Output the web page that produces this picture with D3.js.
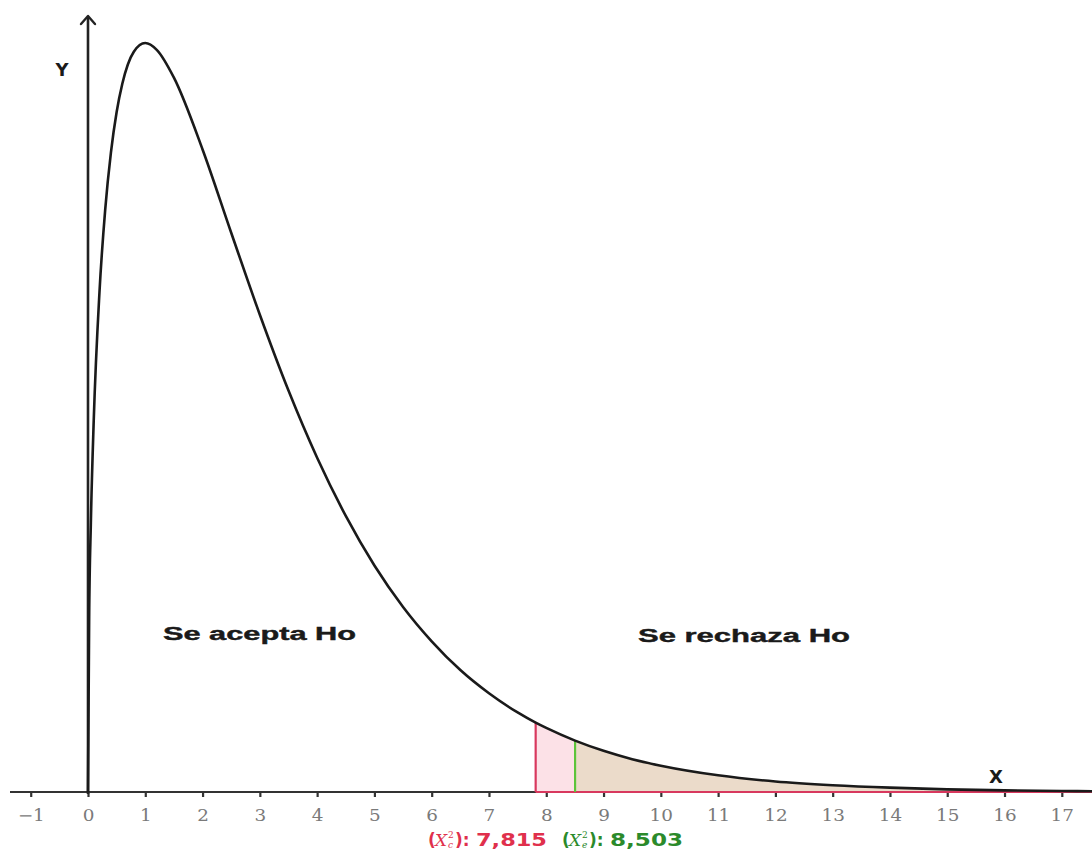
<!DOCTYPE html>
<html>
<head>
<meta charset="utf-8">
<script src="https://cdn.jsdelivr.net/npm/d3@7"></script>
<style>
  html, body { margin: 0; padding: 0; background: #fff; }
  svg { display: block; }
</style>
</head>
<body>
<svg id="chart" width="1092" height="854"></svg>
<script>
// Chi-square density (3 degrees of freedom), sampled points
const curveX = [0, 0.02, 0.05, 0.1, 0.2, 0.3, 0.4, 0.5, 0.6, 0.8, 1.0, 1.2, 1.5, 2.0, 2.5, 3.0, 3.5, 4.0, 4.5, 5.0, 5.5, 6.0, 6.5, 7.0, 7.5, 7.815, 8.0, 8.503, 9.0, 9.5, 10, 11, 12, 13, 14, 15, 16, 17, 17.6];
const curveY = [0, 0.0559, 0.0870, 0.1200, 0.1614, 0.1881, 0.2066, 0.2197, 0.2289, 0.2392, 0.2420, 0.2398, 0.2308, 0.2076, 0.1807, 0.1542, 0.1297, 0.1080, 0.0892, 0.0732, 0.0598, 0.0487, 0.0394, 0.0319, 0.0257, 0.0224, 0.0207, 0.0166, 0.0133, 0.0106, 0.0085, 0.0054, 0.0034, 0.0022, 0.0014, 0.00085, 0.00054, 0.00033, 0.00025];

// Critical and observed statistics
const criticalValue = 7.815;
const observedValue = 8.503;
const criticalLabel = "7,815";
const observedLabel = "8,503";

// Axis ticks
const tickValues = [-1, 0, 1, 2, 3, 4, 5, 6, 7, 8, 9, 10, 11, 12, 13, 14, 15, 16, 17];
const tickLabels = ["\u22121", "0", "1", "2", "3", "4", "5", "6", "7", "8", "9", "10", "11", "12", "13", "14", "15", "16", "17"];

// Region labels
const regionLabels = ["Se acepta Ho", "Se rechaza Ho"];

const points = curveX.map((x, i) => ({ x, y: curveY[i] }));

const svg = d3.select("#chart");

const x = d3.scaleLinear().domain([0, 17]).range([88, 1061.8]);
const y = d3.scaleLinear().domain([0, 0.242]).range([792, 43]);

const curve = d3.curveMonotoneX;

// Rejection region (from critical value)
const rejectPts = points.filter(p => p.x >= criticalValue);
const observedPts = points.filter(p => p.x >= observedValue);

const area = d3.area().x(d => x(d.x)).y0(y(0)).y1(d => y(d.y)).curve(curve);

svg.append("path")
  .datum(rejectPts)
  .attr("d", area)
  .attr("fill", "#fce1e7")
  .attr("stroke", "none");

svg.append("path")
  .datum(observedPts)
  .attr("d", area)
  .attr("fill", "#ebdbca")
  .attr("stroke", "none");

// X axis
const xAxis = d3.axisBottom(x)
  .tickValues(tickValues)
  .tickFormat((d, i) => tickLabels[i])
  .tickSize(5)
  .tickPadding(10);

const gx = svg.append("g")
  .attr("transform", `translate(0,${y(0)})`)
  .call(xAxis);
gx.select(".domain").remove();
gx.selectAll(".tick line").attr("stroke", "#333").attr("stroke-width", 2.2);
gx.selectAll(".tick text")
  .attr("fill", "#7a7a7a")
  .attr("font-family", "DejaVu Serif")
  .attr("font-size", 16)
  .attr("transform", "scale(1.15,1)")
  .attr("dy", "0.85em");

svg.append("line")
  .attr("x1", 10).attr("x2", 1092)
  .attr("y1", y(0)).attr("y2", y(0))
  .attr("stroke", "#333").attr("stroke-width", 2.2);

// Red edge of the rejection region along the axis
svg.append("line")
  .attr("x1", x(criticalValue)).attr("x2", 1092)
  .attr("y1", y(0)).attr("y2", y(0))
  .attr("stroke", "#d8385e").attr("stroke-width", 2.2);

// Critical / observed vertical markers
const yCrit = curveY[curveX.indexOf(criticalValue)];
const yObs = curveY[curveX.indexOf(observedValue)];

svg.append("line")
  .attr("x1", x(criticalValue)).attr("x2", x(criticalValue))
  .attr("y1", y(0)).attr("y2", y(yCrit))
  .attr("stroke", "#d8385e").attr("stroke-width", 2.2);

svg.append("line")
  .attr("x1", x(observedValue)).attr("x2", x(observedValue))
  .attr("y1", y(0)).attr("y2", y(yObs))
  .attr("stroke", "#5cc43a").attr("stroke-width", 2.2);

// Y axis with arrow
svg.append("line")
  .attr("x1", x(0)).attr("x2", x(0))
  .attr("y1", y(0) + 2).attr("y2", 17)
  .attr("stroke", "#222").attr("stroke-width", 2.6);
svg.append("path")
  .attr("d", `M${x(0) - 7},${24} L${x(0)},${16} L${x(0) + 7},${24}`)
  .attr("fill", "none").attr("stroke", "#222").attr("stroke-width", 2.4)
  .attr("stroke-linecap", "round").attr("stroke-linejoin", "round");

// Density curve
const line = d3.line().x(d => x(d.x)).y(d => y(d.y)).curve(curve);
svg.append("path")
  .datum(points)
  .attr("d", line)
  .attr("fill", "none")
  .attr("stroke", "#1a1a1a")
  .attr("stroke-width", 2.6);

// Axis letters
svg.append("text")
  .attr("x", 62).attr("y", 76)
  .attr("text-anchor", "middle")
  .attr("font-family", "DejaVu Sans").attr("font-weight", "bold")
  .attr("font-size", 18).attr("fill", "#1a1a1a")
  .text("Y");
svg.append("text")
  .attr("x", 996).attr("y", 783)
  .attr("text-anchor", "middle")
  .attr("font-family", "DejaVu Sans").attr("font-weight", "bold")
  .attr("font-size", 18).attr("fill", "#1a1a1a")
  .text("X");

// Region labels (wide bold lettering)
function regionLabel(x0, y0, text, width) {
  svg.append("text")
    .attr("transform", `translate(${x0},${y0}) scale(1.55,1)`)
    .attr("font-family", "Liberation Sans").attr("font-weight", "bold")
    .attr("font-size", 18.5).attr("fill", "#1a1a1a")
    .attr("stroke", "#1a1a1a").attr("stroke-width", 0.4)
    .attr("textLength", width / 1.55).attr("lengthAdjust", "spacingAndGlyphs")
    .text(text);
}
regionLabel(163, 640, regionLabels[0], 193);
regionLabel(638, 642, regionLabels[1], 212);

// Statistic labels under the axis
function statLabel(x0, color, sub, value, valueWidth) {
  const g = svg.append("g").attr("fill", color)
    .attr("font-family", "DejaVu Sans").attr("font-weight", "bold");
  g.append("text").attr("x", x0).attr("y", 846).attr("font-size", 17).text("(");
  g.append("text").attr("x", x0 + 7).attr("y", 846)
    .attr("font-family", "DejaVu Serif").attr("font-style", "italic").attr("font-weight", "normal")
    .attr("font-size", 17).text("X");
  g.append("text").attr("x", x0 + 20).attr("y", 838)
    .attr("font-family", "DejaVu Serif").attr("font-weight", "normal")
    .attr("font-size", 9).text("2");
  g.append("text").attr("x", x0 + 20).attr("y", 848)
    .attr("font-family", "DejaVu Serif").attr("font-style", "italic").attr("font-weight", "normal")
    .attr("font-size", 9).text(sub);
  g.append("text").attr("x", x0 + 27).attr("y", 846).attr("font-size", 17).text("):");
  g.append("text").attr("x", x0 + 48).attr("y", 846).attr("font-size", 17)
    .attr("textLength", valueWidth).attr("lengthAdjust", "spacingAndGlyphs")
    .text(value);
}
statLabel(428, "#e0304c", "c", criticalLabel, 71);
statLabel(562, "#2b8a2b", "e", observedLabel, 73);
</script>
</body>
</html>
